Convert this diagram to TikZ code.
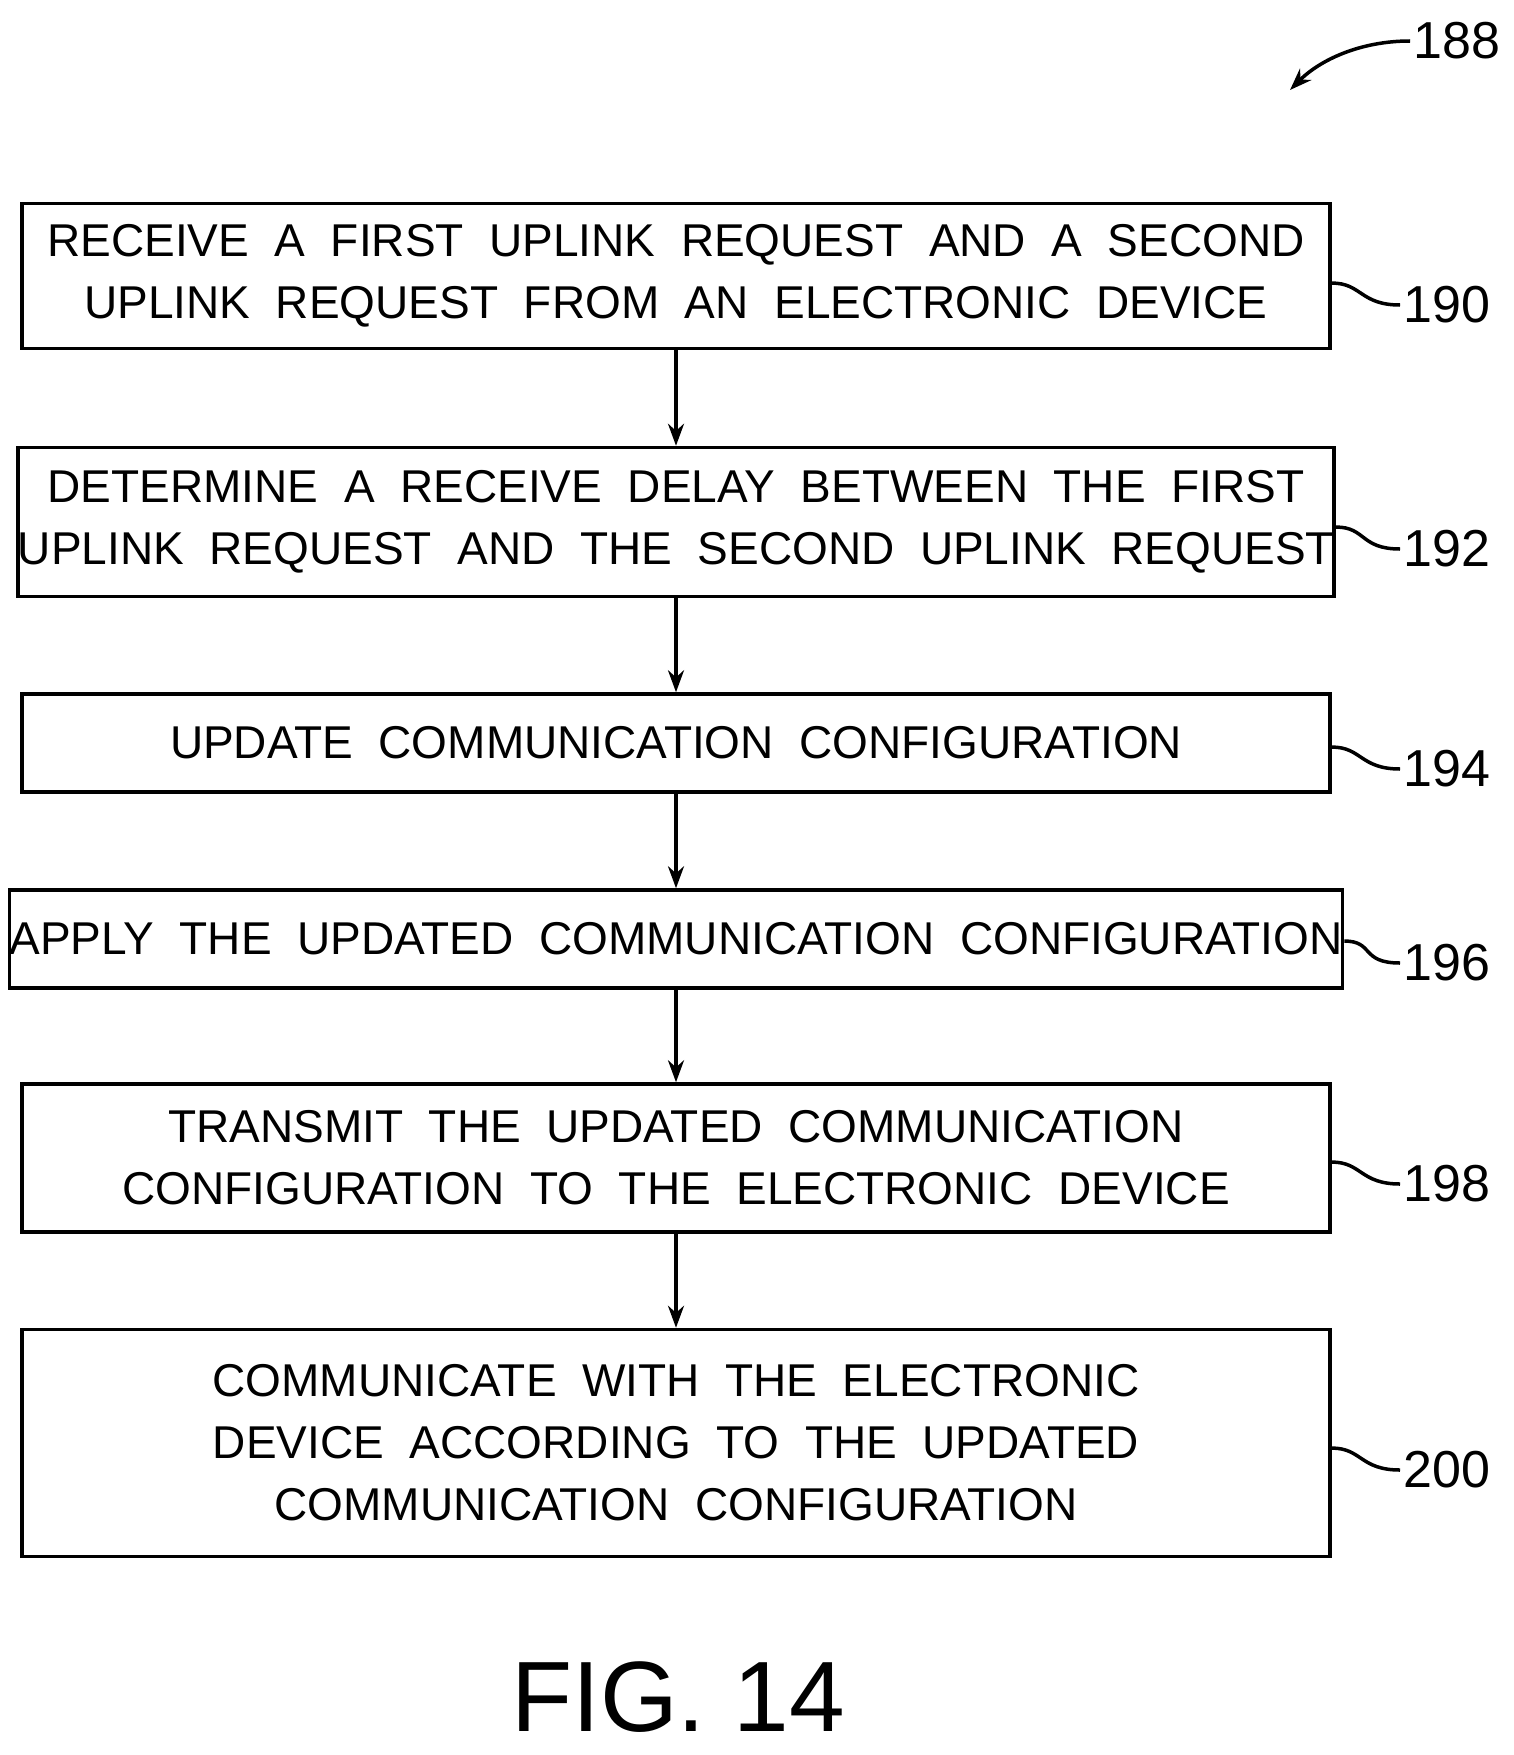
\documentclass[tikz,border=0pt]{standalone}
\usepackage{fontspec}
\setmainfont{Liberation Sans}
\usetikzlibrary{arrows.meta,positioning}
\begin{document}
\begin{tikzpicture}[x=1pt,y=-1pt,
  stage/.style={draw, line width=3.5pt, font=\fontsize{46}{62}\selectfont, align=center, inner sep=0pt},
  arr/.style={-{Stealth[length=22pt,width=16pt]}, line width=3.5pt},
  lead/.style={line width=3.5pt},
  num/.style={font=\fontsize{52}{60}\selectfont}
]
  \useasboundingbox (0,0) rectangle (1513,1755);
  % boxes
  \node[stage, minimum width=1308pt, minimum height=145pt] (recv) at (676,276)
    {RECEIVE\ \ A\ \ FIRST\ \ UPLINK\ \ REQUEST\ \ AND\ \ A\ \ SECOND\\UPLINK\ \ REQUEST\ \ FROM\ \ AN\ \ ELECTRONIC\ \ DEVICE};
  \node[stage, minimum width=1308pt, minimum height=149pt] (delay) at (676,522)
    {DETERMINE\ \ A\ \ RECEIVE\ \ DELAY\ \ BETWEEN\ \ THE\ \ FIRST\\UPLINK\ \ REQUEST\ \ AND\ \ THE\ \ SECOND\ \ UPLINK\ \ REQUEST};
  \node[stage, minimum width=1308pt, minimum height=98pt] (upd) at (676,743)
    {UPDATE\ \ COMMUNICATION\ \ CONFIGURATION};
  \node[stage, minimum width=1308pt, minimum height=98pt] (apply) at (676,939)
    {APPLY\ \ THE\ \ UPDATED\ \ COMMUNICATION\ \ CONFIGURATION};
  \node[stage, minimum width=1308pt, minimum height=148pt] (send) at (676,1158)
    {TRANSMIT\ \ THE\ \ UPDATED\ \ COMMUNICATION\\CONFIGURATION\ \ TO\ \ THE\ \ ELECTRONIC\ \ DEVICE};
  \node[stage, minimum width=1308pt, minimum height=227pt] (comm) at (676,1443)
    {COMMUNICATE\ \ WITH\ \ THE\ \ ELECTRONIC\\DEVICE\ \ ACCORDING\ \ TO\ \ THE\ \ UPDATED\\COMMUNICATION\ \ CONFIGURATION};

  \draw[arr] (recv) -- (delay);
  \draw[arr] (delay) -- (upd);
  \draw[arr] (upd) -- (apply);
  \draw[arr] (apply) -- (send);
  \draw[arr] (send) -- (comm);

  % reference numerals
  \foreach \src/\lbl/\yy in {recv/190/305, delay/192/549, upd/194/769, apply/196/963, send/198/1184, comm/200/1470}{
    \node[num, anchor=west] (n\lbl) at (1400,\yy) {\lbl};
    \draw[lead] (\src.east |- n\lbl.north) .. controls +(30,0) and +(-40,0) .. (n\lbl.west);
  }
  \node[num, anchor=west] (n188) at (1410,41) {188};
  \coordinate (tip) at (1290,90);
  \draw[lead, -{Stealth[length=22pt,width=16pt]}] (n188.west) .. controls +(-50,0) and +(30,-30) .. (tip);

  \node[font=\fontsize{100}{110}\selectfont] (fig) at (678,1697) {FIG. 14};
\end{tikzpicture}
\end{document}
